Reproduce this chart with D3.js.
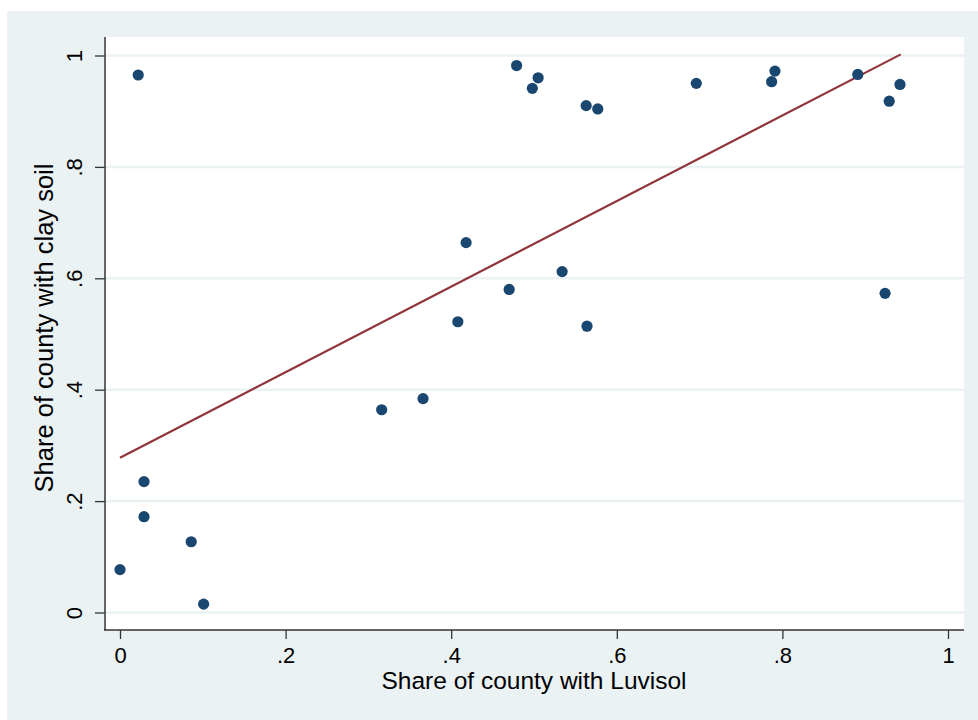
<!DOCTYPE html>
<html>
<head>
<meta charset="utf-8">
<script src="https://cdn.jsdelivr.net/npm/d3@7"></script>
<style>
  html, body { margin: 0; padding: 0; background: #ffffff; }
  svg { display: block; }
  text { font-family: "Liberation Sans", Arial, sans-serif; fill: #000; }
</style>
</head>
<body>
<svg id="chart" width="978" height="720"></svg>
<script>
// Data
const luvisol = [0.000, 0.022, 0.029, 0.029, 0.086, 0.101, 0.316, 0.366, 0.408, 0.418,
                 0.470, 0.479, 0.498, 0.505, 0.534, 0.563, 0.564, 0.577, 0.696, 0.787,
                 0.791, 0.891, 0.924, 0.929, 0.942];
const clay    = [0.077, 0.965, 0.235, 0.172, 0.127, 0.015, 0.364, 0.384, 0.522, 0.664,
                 0.580, 0.982, 0.941, 0.960, 0.612, 0.910, 0.514, 0.904, 0.950, 0.953,
                 0.972, 0.966, 0.573, 0.918, 0.948];
const fitX = [0.000, 0.943];
const fitY = [0.278, 1.002];
const xTicks = [0, 0.2, 0.4, 0.6, 0.8, 1];
const yTicks = [0, 0.2, 0.4, 0.6, 0.8, 1];
const tickLabels = ["0", ".2", ".4", ".6", ".8", "1"];
const xTitle = "Share of county with Luvisol";
const yTitle = "Share of county with clay soil";

const svg = d3.select("#chart");
const W = 978, H = 720;
const plot = { left: 104, right: 964, top: 37, bottom: 630 };

// outer background
svg.append("rect").attr("x", 7).attr("y", 11).attr("width", W - 7).attr("height", H - 11)
  .attr("fill", "#eaf2f3");
// plot region
svg.append("rect").attr("x", plot.left).attr("y", plot.top)
  .attr("width", plot.right - plot.left).attr("height", plot.bottom - plot.top)
  .attr("fill", "#ffffff");

const x = d3.scaleLinear().domain([0, 1]).range([120, 948]);
const y = d3.scaleLinear().domain([0, 1]).range([612.5, 55.5]);

// gridlines
svg.append("g").selectAll("line").data(yTicks).join("line")
  .attr("x1", plot.left + 1).attr("x2", plot.right)
  .attr("y1", d => y(d)).attr("y2", d => y(d))
  .attr("stroke", "#eaf2f3").attr("stroke-width", 2.5);

// axes
const fmt = d => tickLabels[yTicks.indexOf(d)];
const xAxis = d3.axisBottom(x).tickValues(xTicks).tickFormat((d, i) => tickLabels[i])
  .tickSize(9).tickSizeOuter(0).tickPadding(8);
const gx = svg.append("g").attr("transform", `translate(0,${plot.bottom})`).call(xAxis);
gx.select(".domain").remove();
gx.selectAll(".tick line").attr("stroke", "#333").attr("stroke-width", 1.3);
gx.selectAll(".tick text").attr("font-size", 22).attr("fill", "#000")
  .attr("font-family", "Liberation Sans, Arial, sans-serif");
svg.append("line").attr("x1", plot.left).attr("x2", plot.right)
  .attr("y1", plot.bottom).attr("y2", plot.bottom).attr("stroke", "#333").attr("stroke-width", 1.5);

const yAxis = d3.axisLeft(y).tickValues(yTicks).tickFormat(fmt).tickSize(10).tickSizeOuter(0);
const gy = svg.append("g").attr("transform", `translate(${plot.left + 1},0)`).call(yAxis);
gy.select(".domain").remove();
gy.selectAll(".tick line").attr("stroke", "#333").attr("stroke-width", 1.3);
gy.selectAll(".tick text").attr("font-size", 22).attr("fill", "#000")
  .attr("font-family", "Liberation Sans, Arial, sans-serif")
  .attr("x", null).attr("dy", null)
  .attr("text-anchor", "middle")
  .attr("transform", `translate(${82 - plot.left - 1},0) rotate(-90)`);
svg.append("line").attr("x1", plot.left + 1).attr("x2", plot.left + 1)
  .attr("y1", plot.top).attr("y2", plot.bottom).attr("stroke", "#333").attr("stroke-width", 1.5);

// fit line
const pts = fitX.map((v, i) => [v, fitY[i]]);
svg.append("path").datum(pts)
  .attr("d", d3.line().x(d => x(d[0])).y(d => y(d[1])))
  .attr("fill", "none").attr("stroke", "#90353b").attr("stroke-width", 2.2);

// scatter points
const data = luvisol.map((v, i) => ({ x: v, y: clay[i] }));
svg.append("g").selectAll("circle").data(data).join("circle")
  .attr("cx", d => x(d.x)).attr("cy", d => y(d.y)).attr("r", 5.6)
  .attr("fill", "#1a476f");

// titles
svg.append("text").attr("x", 534).attr("y", 689).attr("text-anchor", "middle")
  .attr("font-size", 24.5).text(xTitle);
svg.append("text").attr("transform", "translate(53,328) rotate(-90)")
  .attr("text-anchor", "middle").attr("font-size", 25.5).text(yTitle);
</script>
</body>
</html>
